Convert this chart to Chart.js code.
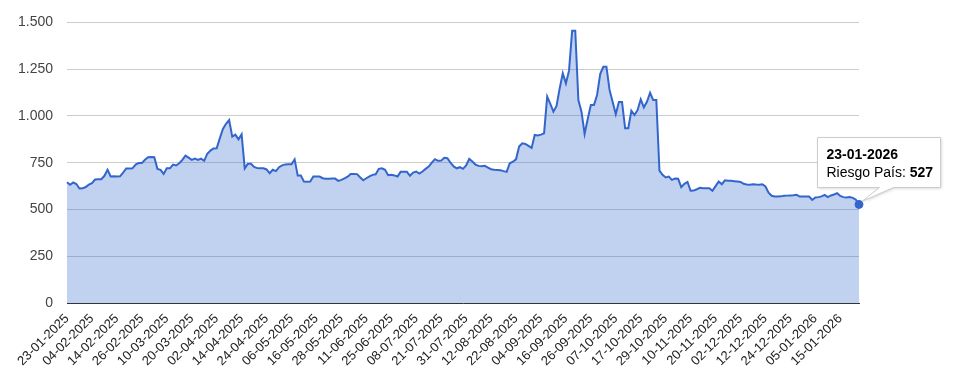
<!DOCTYPE html>
<html lang="es">
<head>
<meta charset="utf-8">
<title>Riesgo País</title>
<script src="https://cdn.jsdelivr.net/npm/chart.js@4.4.1/dist/chart.umd.min.js"></script>
<style>
  html, body { margin: 0; padding: 0; background: #fff; }
  #wrap { position: relative; width: 967px; height: 371px; }
</style>
</head>
<body>
<div id="wrap"><canvas id="chartRiesgo"></canvas></div>
<script>
"use strict";

// ---- data ----
var SERIES_NAME = "Riesgo País";

var TICK_LABELS = [
  "23-01-2025", "04-02-2025", "14-02-2025", "26-02-2025", "10-03-2025", "20-03-2025",
  "02-04-2025", "14-04-2025", "24-04-2025", "06-05-2025", "16-05-2025", "28-05-2025",
  "11-06-2025", "25-06-2025", "08-07-2025", "21-07-2025", "31-07-2025", "12-08-2025",
  "22-08-2025", "04-09-2025", "16-09-2025", "26-09-2025", "07-10-2025", "17-10-2025",
  "29-10-2025", "10-11-2025", "20-11-2025", "02-12-2025", "12-12-2025", "24-12-2025",
  "05-01-2026", "15-01-2026"
];
var LAST_DATE = "23-01-2026";
var TICK_EVERY = 8;

var RIESGO = [
  646, 632, 644, 636, 612, 613, 620, 633, 641, 660,
  661, 662, 680, 712, 676, 677, 676, 677, 697, 719,
  719, 720, 740, 748, 748, 766, 779, 780, 779, 717,
  712, 690, 720, 720, 740, 735, 747, 765, 788, 777,
  765, 772, 765, 772, 760, 798, 815, 826, 827, 880,
  930, 958, 978, 889, 900, 875, 902, 720, 744, 744,
  727, 721, 720, 720, 714, 694, 712, 705, 726, 736,
  741, 742, 742, 768, 681, 681, 649, 648, 649, 676,
  676, 676, 667, 664, 664, 665, 665, 653, 658, 666,
  675, 690, 690, 689, 672, 656, 667, 677, 685, 688,
  717, 720, 712, 683, 685, 682, 676, 701, 701, 701,
  680, 697, 703, 692, 703, 717, 729, 750, 769, 760,
  761, 776, 774, 750, 730, 720, 726, 717, 735, 770,
  756, 740, 733, 731, 733, 724, 715, 712, 711, 710,
  705, 701, 747, 755, 768, 836, 854, 850, 840, 829,
  898, 895, 900, 907, 1103, 1064, 1023, 1053, 1147, 1228,
  1174, 1242, 1455, 1455, 1085, 1023, 904, 984, 1058, 1058,
  1112, 1224, 1263, 1263, 1139, 1075, 1009, 1074, 1074, 934,
  934, 1028, 1005, 1032, 1089, 1046, 1076, 1124, 1085, 1085,
  708, 685, 671, 676, 658, 665, 664, 619, 637, 647,
  600, 601, 608, 616, 614, 614, 614, 600, 625, 649,
  635, 656, 654, 653, 651, 649, 647, 637, 634, 632,
  635, 633, 632, 635, 623, 590, 573, 569, 569, 570,
  573, 574, 575, 576, 578, 569, 569, 569, 569, 551,
  564, 566, 570, 578, 566, 575, 580, 587, 572, 566,
  564, 566, 562, 552, 527
];

var Y_MAX = 1500;
var Y_STEP = 250;

var BLUE = "#3366cc";
var BLUE_FILL = "rgba(51,102,204,0.3)";
var FONT = "'Liberation Sans', Arial, sans-serif";

// ---- date labels for every point (ticks are every 8 trading days) ----
var DAY = 86400000;

function parseDate(s) {
  var p = s.split("-");
  return new Date(Date.UTC(+p[2], +p[1] - 1, +p[0]));
}

function pad2(n) { return (n < 10 ? "0" : "") + n; }

function fmtDate(d) {
  return pad2(d.getUTCDate()) + "-" + pad2(d.getUTCMonth() + 1) + "-" + d.getUTCFullYear();
}

function buildLabels() {
  var stops = TICK_LABELS.concat([LAST_DATE]);
  var out = [];
  for (var k = 0; k < stops.length - 1; k++) {
    var a = parseDate(stops[k]).getTime();
    var b = parseDate(stops[k + 1]).getTime();
    var steps = (k === stops.length - 2) ? (RIESGO.length - 1 - TICK_EVERY * k) : TICK_EVERY;
    for (var j = 0; j < steps; j++) {
      out.push(fmtDate(new Date(a + Math.round(j * (b - a) / steps / DAY) * DAY)));
    }
  }
  out.push(LAST_DATE);
  return out;
}

function fmtNum(v) {
  return String(v).replace(/\B(?=(\d{3})+(?!\d))/g, ".");
}

// ---- callout on the last point ----
var calloutPlugin = {
  id: "callout",
  afterDatasetsDraw: function (chart) {
    var i = RIESGO.length - 1;
    var pt = chart.getDatasetMeta(0).data[i];
    if (!pt) return;
    var ctx = chart.ctx;
    var x0 = Math.round(pt.x - 42) + 0.5, y0 = Math.round(pt.y - 67) + 0.5;
    var w = 123, h = 50;
    var x1 = x0 + w, y1 = y0 + h;
    var tailL = x0 + 62, tailR = x0 + 76;

    ctx.save();
    ctx.beginPath();
    ctx.moveTo(x0, y0);
    ctx.lineTo(x1, y0);
    ctx.lineTo(x1, y1);
    ctx.lineTo(tailR, y1);
    ctx.lineTo(pt.x + 3, pt.y - 3);
    ctx.lineTo(tailL, y1);
    ctx.lineTo(x0, y1);
    ctx.closePath();
    ctx.shadowColor = "rgba(0,0,0,0.18)";
    ctx.shadowBlur = 3;
    ctx.shadowOffsetX = 1;
    ctx.shadowOffsetY = 1;
    ctx.fillStyle = "#fff";
    ctx.fill();
    ctx.shadowColor = "transparent";
    ctx.strokeStyle = "#cccccc";
    ctx.lineWidth = 1;
    ctx.stroke();

    ctx.fillStyle = "#000";
    ctx.textBaseline = "alphabetic";
    ctx.textAlign = "left";
    ctx.font = "bold 14px " + FONT;
    ctx.fillText(chart.data.labels[i], x0 + 9, y0 + 21);
    var lead = SERIES_NAME + ": ";
    ctx.font = "14px " + FONT;
    ctx.fillText(lead, x0 + 9, y0 + 39);
    var lw = ctx.measureText(lead).width;
    ctx.font = "bold 14px " + FONT;
    ctx.fillText(fmtNum(RIESGO[i]), x0 + 9 + lw, y0 + 39);
    ctx.restore();
  }
};

document.addEventListener("DOMContentLoaded", function () {
  var labels = buildLabels();
  var radii = RIESGO.map(function (v, i) { return i === RIESGO.length - 1 ? 4 : 0; });

  new Chart(document.getElementById("chartRiesgo"), {
    type: "line",
    data: {
      labels: labels,
      datasets: [{
        label: SERIES_NAME,
        data: RIESGO,
        borderColor: BLUE,
        backgroundColor: BLUE_FILL,
        borderWidth: 2,
        fill: "origin",
        tension: 0,
        pointRadius: radii,
        pointHoverRadius: radii,
        pointBackgroundColor: BLUE,
        pointBorderColor: BLUE,
        pointBorderWidth: 1
      }]
    },
    options: {
      responsive: true, maintainAspectRatio: false, animation: false,
      layout: { padding: { left: 0, right: 108, top: 22, bottom: 0 } },
      plugins: {
        legend: { display: false },
        tooltip: { enabled: false }
      },
      events: [],
      scales: {
        x: {
          offset: false,
          grid: { display: false, drawTicks: false },
          border: { display: true, color: "#333333", width: 1 },
          afterFit: function (s) { s.height = 68; },
          ticks: {
            autoSkip: false, maxRotation: 45, minRotation: 45, padding: 8,
            color: "#222222", font: { size: 13, family: FONT },
            callback: function (val, i) {
              return i % TICK_EVERY === 0 ? this.getLabelForValue(val) : "";
            }
          }
        },
        y: {
          min: 0, max: Y_MAX,
          grid: { color: "#cccccc", drawTicks: false },
          border: { display: false },
          afterFit: function (s) { s.width = 67; },
          ticks: {
            stepSize: Y_STEP, padding: 14,
            color: "#444444", font: { size: 14, family: FONT },
            callback: function (v) { return fmtNum(v); }
          }
        }
      }
    },
    plugins: [calloutPlugin]
  });
});
</script>
</body>
</html>
